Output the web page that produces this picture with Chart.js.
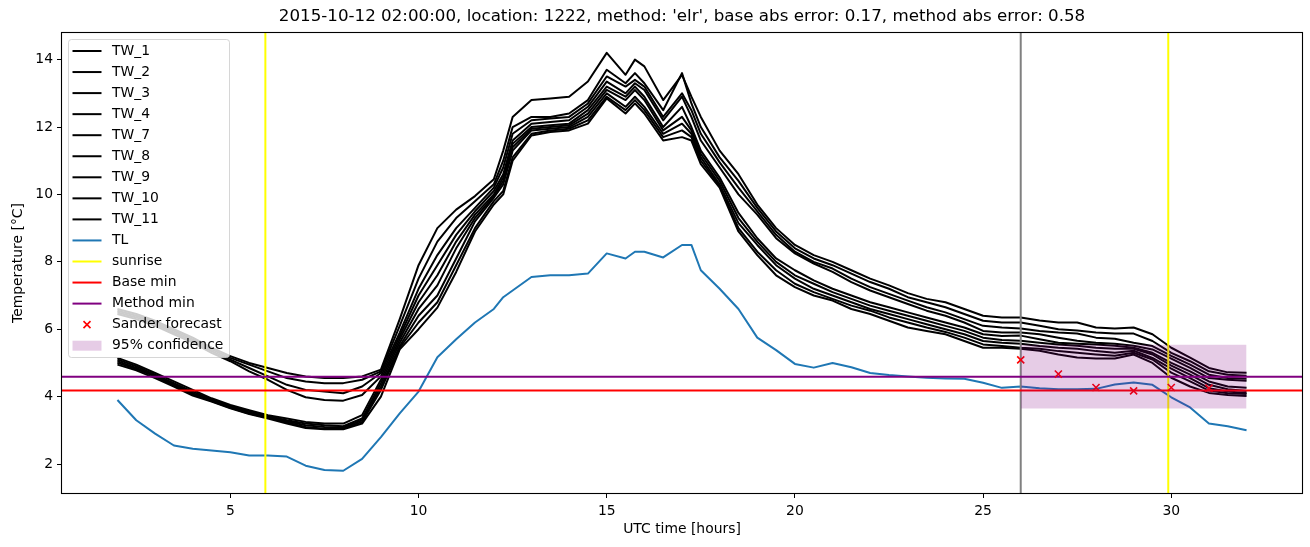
<!DOCTYPE html>
<html>
<head>
<meta charset="utf-8">
<script src="https://cdn.jsdelivr.net/npm/chart.js@4.4.0/dist/chart.umd.min.js"></script>
<style>
  html, body { margin: 0; padding: 0; background: #fff; }
  #wrap { width: 1310px; height: 547px; }
</style>
</head>
<body>
<div id="wrap"><canvas id="chart" width="1310" height="547"></canvas></div>
<script>
// --- Data ---
const hours = [2, 2.5, 3, 3.5, 4, 4.5, 5, 5.5, 6, 6.5, 7, 7.5, 8, 8.5, 9, 9.5, 10, 10.5, 11, 11.5, 12,
  12.25, 12.5, 13, 13.5, 14, 14.5, 15, 15.5, 15.75, 16, 16.5, 17, 17.25, 17.5,
  18, 18.5, 19, 19.5, 20, 20.5, 21, 21.5, 22, 22.5, 23, 23.5, 24, 24.5, 25, 25.5, 26, 26.5,
  27, 27.5, 28, 28.5, 29, 29.5, 30, 30.5, 31, 31.5, 32];

const tw1 = [6.6, 6.45, 6.25, 6.0, 5.75, 5.45, 5.2, 5.0, 4.85, 4.7, 4.6, 4.55, 4.55, 4.6, 4.8,
  6.3, 7.9, 9.0, 9.55, 9.95, 10.45,
  11.3, 12.3, 12.8, 12.85, 12.9, 13.35, 14.2, 13.55, 14.0, 13.8, 12.8, 13.55, 12.9, 12.3,
  11.3, 10.6, 9.7, 9.0, 8.5, 8.2, 8.0, 7.75, 7.5, 7.3, 7.07, 6.9, 6.8, 6.6, 6.4, 6.35, 6.35, 6.26,
  6.2, 6.2, 6.05, 6.02, 6.05, 5.85, 5.45, 5.16, 4.85, 4.72, 4.71];
const tw2 = [6.55, 6.4, 6.2, 5.95, 5.7, 5.4, 5.15, 4.95, 4.75, 4.55, 4.45, 4.4, 4.4, 4.5, 4.75,
  6.1, 7.5, 8.6, 9.3, 9.8, 10.3,
  11.0, 12.0, 12.3, 12.3, 12.4, 12.8, 13.7, 13.3, 13.6, 13.3, 12.5, 13.6, 12.7, 12.0,
  11.1, 10.4, 9.6, 8.9, 8.4, 8.1, 7.9, 7.65, 7.4, 7.2, 6.95, 6.8, 6.65, 6.45, 6.25, 6.2, 6.2, 6.1,
  6.0, 5.96, 5.9, 5.87, 5.87, 5.65, 5.3, 5.05, 4.75, 4.65, 4.62];
const tw3 = [6.5, 6.35, 6.15, 5.9, 5.65, 5.35, 5.1, 4.85, 4.6, 4.35, 4.2, 4.15, 4.1, 4.3, 4.7,
  5.9, 7.2, 8.2, 9.0, 9.6, 10.2,
  10.8, 11.8, 12.2, 12.25, 12.3, 12.7, 13.5, 13.2, 13.4, 13.2, 12.3, 13.0, 12.5, 11.8,
  10.95, 10.2, 9.5, 8.8, 8.3, 8.0, 7.8, 7.5, 7.25, 7.05, 6.85, 6.65, 6.5, 6.3, 6.1, 6.05, 6.02, 5.95,
  5.9, 5.87, 5.75, 5.72, 5.6, 5.5, 5.21, 4.95, 4.65, 4.55, 4.53];
const tw4 = [6.45, 6.3, 6.1, 5.85, 5.6, 5.3, 5.05, 4.75, 4.5, 4.2, 3.98, 3.9, 3.88, 4.05, 4.6,
  5.8, 7.0, 7.9, 8.8, 9.5, 10.1,
  10.6, 11.6, 12.1, 12.15, 12.2, 12.6, 13.35, 13.0, 13.3, 13.1, 12.2, 12.9, 12.3, 11.6,
  10.8, 10.0, 9.4, 8.7, 8.25, 7.95, 7.7, 7.4, 7.15, 6.95, 6.75, 6.55, 6.4, 6.2, 5.95, 5.9, 5.9, 5.85,
  5.75, 5.66, 5.6, 5.57, 5.51, 5.4, 5.13, 4.85, 4.55, 4.5, 4.47];
const tw7 = [5.15, 4.95, 4.7, 4.45, 4.2, 3.95, 3.75, 3.6, 3.45, 3.35, 3.25, 3.2, 3.2, 3.45, 4.5,
  5.7, 6.8, 7.6, 8.6, 9.4, 10.0,
  10.5, 11.5, 12.0, 12.05, 12.1, 12.5, 13.2, 12.9, 13.2, 12.9, 12.0, 12.6, 12.0, 11.3,
  10.5, 9.45, 8.7, 8.1, 7.75, 7.45, 7.2, 7.0, 6.8, 6.65, 6.5, 6.35, 6.2, 6.05, 5.85, 5.8, 5.81, 5.7,
  5.6, 5.57, 5.55, 5.51, 5.45, 5.3, 5.0, 4.75, 4.45, 4.3, 4.26];
const tw8 = [5.1, 4.9, 4.65, 4.4, 4.15, 3.92, 3.72, 3.57, 3.42, 3.3, 3.2, 3.15, 3.12, 3.35, 4.4,
  5.6, 6.6, 7.3, 8.4, 9.3, 9.95,
  10.4, 11.4, 11.95, 12.0, 12.05, 12.4, 13.1, 12.8, 13.1, 12.8, 11.9, 12.3, 11.9, 11.2,
  10.4, 9.3, 8.6, 8.0, 7.6, 7.35, 7.1, 6.9, 6.7, 6.55, 6.4, 6.25, 6.1, 5.95, 5.75, 5.68, 5.66, 5.6,
  5.55, 5.51, 5.45, 5.42, 5.42, 5.25, 4.92, 4.65, 4.35, 4.22, 4.17];
const tw9 = [5.05, 4.85, 4.62, 4.37, 4.1, 3.9, 3.7, 3.53, 3.4, 3.27, 3.15, 3.1, 3.08, 3.3, 4.3,
  5.5, 6.4, 7.0, 8.1, 9.2, 9.9,
  10.3, 11.3, 11.9, 11.95, 12.0, 12.3, 13.0, 12.6, 12.9, 12.6, 11.8, 12.1, 11.8, 11.1,
  10.3, 9.15, 8.5, 7.9, 7.5, 7.2, 7.0, 6.8, 6.6, 6.45, 6.3, 6.15, 6.0, 5.85, 5.65, 5.6, 5.57, 5.5,
  5.45, 5.42, 5.35, 5.3, 5.36, 5.15, 4.83, 4.55, 4.25, 4.15, 4.11];
const tw10 = [5.0, 4.82, 4.6, 4.33, 4.07, 3.87, 3.67, 3.5, 3.37, 3.23, 3.1, 3.05, 3.05, 3.25, 4.2,
  5.45, 6.2, 6.8, 7.9, 9.0, 9.8,
  10.1, 11.1, 11.8, 11.9, 11.95, 12.2, 12.9, 12.5, 12.8, 12.5, 11.7, 11.9, 11.7, 11.0,
  10.25, 9.0, 8.3, 7.75, 7.35, 7.1, 6.9, 6.7, 6.55, 6.35, 6.2, 6.05, 5.92, 5.75, 5.55, 5.5, 5.45, 5.42,
  5.35, 5.3, 5.25, 5.21, 5.3, 5.1, 4.71, 4.45, 4.18, 4.1, 4.08];
const tw11 = [4.95, 4.78, 4.55, 4.3, 4.03, 3.85, 3.65, 3.48, 3.35, 3.2, 3.07, 3.03, 3.03, 3.2, 4.0,
  5.4, 6.0, 6.64, 7.7, 8.9, 9.7,
  10.0, 11.0, 11.75, 11.85, 11.9, 12.1, 12.85, 12.4, 12.7, 12.4, 11.6, 11.7, 11.6, 10.9,
  10.2, 8.9, 8.2, 7.6, 7.25, 7.0, 6.85, 6.6, 6.45, 6.25, 6.05, 5.95, 5.85, 5.65, 5.45, 5.45, 5.42, 5.36,
  5.25, 5.16, 5.13, 5.13, 5.25, 5.0, 4.56, 4.3, 4.11, 4.05, 4.02];
const tl = [3.9, 3.3, 2.9, 2.55, 2.45, 2.4, 2.35, 2.25, 2.25, 2.22, 1.95, 1.82, 1.8, 2.15, 2.8,
  3.5, 4.15, 5.17, 5.7, 6.2, 6.6,
  6.95, 7.15, 7.55, 7.6, 7.6, 7.65, 8.25, 8.1, 8.3, 8.3, 8.13, 8.5, 8.5, 7.75,
  7.2, 6.6, 5.75, 5.38, 4.97, 4.86, 5.0, 4.87, 4.7, 4.64, 4.6, 4.56, 4.54, 4.53, 4.41, 4.26, 4.3, 4.25,
  4.22, 4.22, 4.23, 4.36, 4.42, 4.35, 3.98, 3.68, 3.2, 3.12, 3.0];

const twLabels = ['TW_1', 'TW_2', 'TW_3', 'TW_4', 'TW_7', 'TW_8', 'TW_9', 'TW_10', 'TW_11'];
const twSeries = [tw1, tw2, tw3, tw4, tw7, tw8, tw9, tw10, tw11];

const sunriseHours = [5.93, 29.92];
const forecastStart = [26];
const baseMin = [4.18];
const methodMin = [4.59];
const sanderHours = [26, 27, 28, 29, 30, 31];
const sanderValues = [5.09, 4.67, 4.27, 4.17, 4.27, 4.25];
const confHours = [26, 32];
const confLow = [3.65, 3.65];
const confHigh = [5.54, 5.54];

const xTicks = [5, 10, 15, 20, 25, 30];
const yTicks = [2, 4, 6, 8, 10, 12, 14];
const xRange = [0.5, 33.5];
const yRange = [1.11, 14.82];

const titleText = "2015-10-12 02:00:00, location: 1222, method: 'elr', base abs error: 0.17, method abs error: 0.58";

// --- Helpers ---
const FONT = 'DejaVu Sans';
const LW = 2;
Chart.defaults.font.family = FONT;
Chart.defaults.color = '#000';

const pts = ys => hours.map((h, i) => ({ x: h, y: ys[i] }));
const vline = x => [{ x, y: yRange[0] }, { x, y: yRange[1] }];
const hline = y => [{ x: xRange[0], y }, { x: xRange[1], y }];

function lineSet(label, data, color) {
    return {
        label, data, borderColor: color, backgroundColor: color,
        borderWidth: LW, pointRadius: 0, fill: false, tension: 0,
        borderJoinStyle: 'round', borderCapStyle: 'butt'
    };
}

const datasets = [];
twSeries.forEach((s, i) => datasets.push(lineSet(twLabels[i], pts(s), '#000000')));
datasets.push(lineSet('TL', pts(tl), '#1f77b4'));
sunriseHours.forEach(h => datasets.push(lineSet('sunrise', vline(h), '#ffff00')));
datasets.push(lineSet('forecast', vline(forecastStart[0]), '#808080'));
datasets.push(lineSet('Base min', hline(baseMin[0]), '#ff0000'));
datasets.push(lineSet('Method min', hline(methodMin[0]), '#800080'));
datasets.push({
    label: 'Sander forecast',
    data: sanderHours.map((h, i) => ({ x: h, y: sanderValues[i] })),
    showLine: false, pointStyle: 'crossRot', pointRadius: 5,
    pointBorderWidth: 1.6, borderColor: '#ff0000', backgroundColor: '#ff0000'
});
datasets.push({
    label: 'confLow', data: confHours.map((h, i) => ({ x: h, y: confLow[i] })),
    borderWidth: 0, pointRadius: 0, fill: false, borderColor: 'rgba(0,0,0,0)'
});
datasets.push({
    label: '95% confidence', data: confHours.map((h, i) => ({ x: h, y: confHigh[i] })),
    borderWidth: 0, pointRadius: 0, fill: '-1', borderColor: 'rgba(0,0,0,0)',
    backgroundColor: 'rgba(128,0,128,0.2)'
});
// later datasets on top, like the original plot
datasets.forEach((d, i) => { d.order = -i; });

const legendItems = twLabels.map(l => ({ label: l, kind: 'line', color: '#000000' })).concat([
    { label: 'TL', kind: 'line', color: '#1f77b4' },
    { label: 'sunrise', kind: 'line', color: '#ffff00' },
    { label: 'Base min', kind: 'line', color: '#ff0000' },
    { label: 'Method min', kind: 'line', color: '#800080' },
    { label: 'Sander forecast', kind: 'cross', color: '#ff0000' },
    { label: '95% confidence', kind: 'patch', color: 'rgba(128,0,128,0.2)' }
]);

// --- Plugins ---
const framePlugin = {
    id: 'frame',
    afterDraw(chart) {
        const { ctx, chartArea: a } = chart;
        ctx.save();
        ctx.strokeStyle = '#000';
        ctx.lineWidth = 1.1;
        ctx.strokeRect(Math.round(a.left) + 0.5, Math.round(a.top) + 0.5,
            Math.round(a.width) - 1, Math.round(a.height) - 1);
        // title
        ctx.fillStyle = '#000';
        ctx.font = `16.7px "${FONT}"`;
        ctx.textAlign = 'center';
        ctx.textBaseline = 'middle';
        ctx.fillText(titleText, (a.left + a.right) / 2, 17);
        ctx.restore();
    }
};

const boxLegend = {
    id: 'boxLegend',
    afterDraw(chart) {
        const { ctx, chartArea: a } = chart;
        const lx = a.left + 7, ly = a.top + 7, lw = 161, lh = 318, rowH = 21.05;
        ctx.save();
        ctx.beginPath();
        ctx.roundRect(lx + 0.5, ly + 0.5, lw, lh, 3);
        ctx.fillStyle = 'rgba(255,255,255,0.8)';
        ctx.fill();
        ctx.strokeStyle = 'rgba(204,204,204,0.8)';
        ctx.lineWidth = 1;
        ctx.stroke();
        ctx.font = `13.9px "${FONT}"`;
        ctx.textBaseline = 'middle';
        ctx.textAlign = 'left';
        legendItems.forEach((it, i) => {
            const y = ly + 12 + i * rowH;
            const hx0 = lx + 4.5, hx1 = lx + 33.5;
            if (it.kind === 'line') {
                ctx.strokeStyle = it.color;
                ctx.lineWidth = LW;
                ctx.beginPath();
                ctx.moveTo(hx0, y);
                ctx.lineTo(hx1, y);
                ctx.stroke();
            } else if (it.kind === 'cross') {
                const cx = (hx0 + hx1) / 2, r = 3.5;
                ctx.strokeStyle = it.color;
                ctx.lineWidth = 1.6;
                ctx.beginPath();
                ctx.moveTo(cx - r, y - r); ctx.lineTo(cx + r, y + r);
                ctx.moveTo(cx - r, y + r); ctx.lineTo(cx + r, y - r);
                ctx.stroke();
            } else {
                ctx.fillStyle = it.color;
                ctx.fillRect(hx0, y - 5, hx1 - hx0, 10);
            }
            ctx.fillStyle = '#000';
            ctx.fillText(it.label, lx + 44, y);
        });
        ctx.restore();
    }
};

const tickFont = { family: FONT, size: 13.9 };

new Chart(document.getElementById('chart'), {
    type: 'line',
    data: { datasets },
    options: {
        responsive: false,
        animation: false,
        devicePixelRatio: 1,
        events: [],
        layout: { padding: { left: 0, top: 32, right: 7, bottom: 0 } },
        plugins: { legend: { display: false }, tooltip: { enabled: false }, title: { display: false } },
        scales: {
            x: {
                type: 'linear', min: xRange[0], max: xRange[1],
                afterBuildTicks: s => { s.ticks = xTicks.map(v => ({ value: v })); },
                afterFit: s => { s.height = 53; },
                grid: { drawOnChartArea: false, drawTicks: true, tickLength: 4, tickColor: '#000', tickWidth: 1 },
                border: { display: false },
                ticks: { font: tickFont, color: '#000', padding: 5, maxRotation: 0, autoSkip: false },
                title: { display: true, text: 'UTC time [hours]', font: tickFont, color: '#000', padding: { top: 0, bottom: 9 } }
            },
            y: {
                type: 'linear', min: yRange[0], max: yRange[1],
                afterBuildTicks: s => { s.ticks = yTicks.map(v => ({ value: v })); },
                afterFit: s => { s.width = 61; },
                grid: { drawOnChartArea: false, drawTicks: true, tickLength: 4, tickColor: '#000', tickWidth: 1 },
                border: { display: false },
                ticks: { font: tickFont, color: '#000', padding: 4 },
                title: { display: true, text: 'Temperature [\u00B0C]', font: tickFont, color: '#000', padding: { top: 10, bottom: 0 } }
            }
        }
    },
    plugins: [framePlugin, boxLegend]
});
</script>
</body>
</html>
